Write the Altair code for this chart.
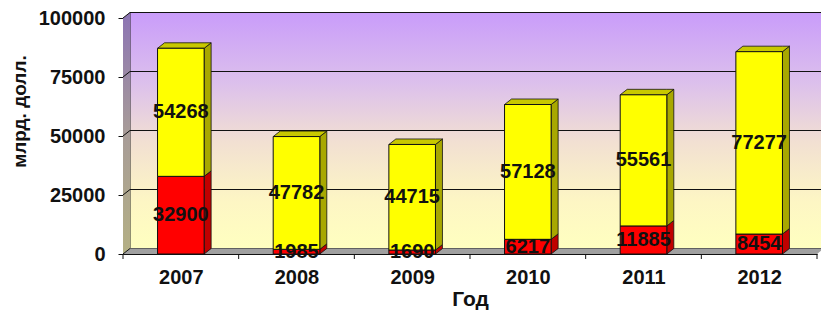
import altair as alt
import pandas as pd

# ---- data ----
years = ["2007", "2008", "2009", "2010", "2011", "2012"]
red_vals = [32900, 1985, 1690, 6217, 11885, 8454]
yellow_vals = [54268, 47782, 44715, 57128, 55561, 77277]
y_ticks = [0, 25000, 50000, 75000, 100000]

# ---- style constants ----
W, H = 694, 236
N = len(years)
PX_X = W / N              # pixels per category unit
PX_Y = H / 100000         # pixels per data unit
HW = 23.3 / PX_X          # half bar width (category units)
DX = 7 / PX_X             # 3D depth in x
DY = 5.5 / PX_Y           # 3D depth in y
FONT = "Liberation Sans"

RED, RED_SIDE = "#FF0000", "#C00000"
YEL, YEL_SIDE, YEL_TOP = "#FFFF00", "#A8A800", "#C8C800"

front, side, top, labels = [], [], [], []
for i, (yr, r, yv) in enumerate(zip(years, red_vals, yellow_vals)):
    segs = [(0, r, RED, RED_SIDE, r), (r, r + yv, YEL, YEL_SIDE, yv)]
    for k, (lo, hi, fc, sc, v) in enumerate(segs):
        key = f"{yr}-{k}"
        front.append(dict(x=i - HW, x2=i + HW, lo=lo, hi=hi, fill=fc))
        side.append(dict(key=key, x=i + HW, lo=lo, hi=hi, fill=sc))
        side.append(dict(key=key, x=i + HW + DX, lo=lo + DY, hi=hi + DY, fill=sc))
        labels.append(dict(x=i, lo=(lo + hi) / 2, text=str(v)))
    t = r + yv
    xl, xr = i - HW, i + HW
    for xx, lo, hi in [(xl, t, t), (xl + DX, t, t + DY), (xr, t, t + DY), (xr + DX, t + DY, t + DY)]:
        top.append(dict(key=yr, x=xx, lo=lo, hi=hi))

front_df = pd.DataFrame(front)
side_df = pd.DataFrame(side)
top_df = pd.DataFrame(top)
label_df = pd.DataFrame(labels)

x0, x1 = -0.5, N - 0.5
back_df = pd.DataFrame([dict(x=x0 + DX, x2=x1 + DX, lo=DY, hi=100000 + DY)])
left_df = pd.DataFrame([dict(x=x0, lo=0, hi=100000), dict(x=x0 + DX, lo=DY, hi=100000 + DY)])
floor_df = pd.DataFrame([dict(x=x0, lo=0, hi=0), dict(x=x0 + DX, lo=0, hi=DY),
                         dict(x=x1, lo=0, hi=DY), dict(x=x1 + DX, lo=DY, hi=DY)])
grid_df = pd.DataFrame([dict(x=x0 + DX, x2=x1 + DX, lo=v + DY, hi=v + DY) for v in y_ticks[1:]] +
                       [dict(x=x0, x2=x0 + DX, lo=v, hi=v + DY) for v in y_ticks])
tick_df = pd.DataFrame(dict(x=[x0 + k for k in range(N + 1)]))

xscale = alt.Scale(domain=[x0, x1], nice=False, zero=False)
yscale = alt.Scale(domain=[0, 100000], nice=False)

label_expr = "[" + ",".join(f"'{y}'" for y in years) + "][datum.value]"

XAXIS = alt.Axis(
    values=list(range(N)), labelExpr=label_expr, grid=False, ticks=False,
    domainColor="#111", labelFont=FONT, labelFontSize=20, labelFontWeight="bold",
    labelColor="#111", labelPadding=13, title="Год", titleFont=FONT,
    titleFontSize=21, titleFontWeight="bold", titleColor="#111", titlePadding=1)
YAXIS = alt.Axis(
    values=y_ticks, format="d", grid=False, tickSize=5, tickColor="#111",
    domainColor="#111", labelFont=FONT, labelFontSize=20, labelFontWeight="bold",
    labelColor="#111", labelPadding=13, title="млрд. долл.", titleFont=FONT,
    titleFontSize=19, titleFontWeight="bold", titleColor="#111",
    titleAngle=270, titleAlign="center", titleBaseline="alphabetic",
    titleX=-98, titleY=93)


def X(f="x"):
    return alt.X(f"{f}:Q", scale=xscale, axis=XAXIS, title="Год")


def Y(f="lo"):
    return alt.Y(f"{f}:Q", scale=yscale, axis=YAXIS, stack=None, title="млрд. долл.")


back = alt.Chart(back_df).mark_rect(
    color=alt.Gradient(gradient="linear", x1=0, x2=0, y1=0, y2=1, stops=[
        alt.GradientStop(color="#C99CFA", offset=0),
        alt.GradientStop(color="#DCC0EC", offset=0.3),
        alt.GradientStop(color="#F2E0D2", offset=0.55),
        alt.GradientStop(color="#FDF6C4", offset=0.8),
        alt.GradientStop(color="#FFFFC0", offset=1)]),
    stroke="#222", strokeWidth=1,
).encode(x=X(), x2="x2:Q", y=Y(), y2="hi:Q")

left = alt.Chart(left_df).mark_area(
    color=alt.Gradient(gradient="linear", x1=0, x2=0, y1=0, y2=1, stops=[
        alt.GradientStop(color="#8C74B4", offset=0),
        alt.GradientStop(color="#A89C98", offset=0.5),
        alt.GradientStop(color="#B4B084", offset=1)]),
).encode(x=X(), y=Y(), y2="hi:Q")

floor = alt.Chart(floor_df).mark_area(color="#A0A0A0").encode(x=X(), y=Y(), y2="hi:Q")

grid = alt.Chart(grid_df).mark_rule(color="#111", strokeWidth=1).encode(
    x=X(), x2="x2:Q", y=Y(), y2="hi:Q")

xticks = alt.Chart(tick_df).mark_rule(color="#111").encode(
    x=X(), y=alt.value(H), y2=alt.value(H + 5))

sides = alt.Chart(side_df).mark_area(stroke="#111", strokeWidth=0.8).encode(
    x=X(), y=Y(), y2="hi:Q", detail="key:N", color=alt.Color("fill:N", scale=None))

tops = alt.Chart(top_df).mark_area(color=YEL_TOP, stroke="#111", strokeWidth=0.8).encode(
    x=X(), y=Y(), y2="hi:Q", detail="key:N")

fronts = alt.Chart(front_df).mark_rect(stroke="#111", strokeWidth=1).encode(
    x=X(), x2="x2:Q", y=Y(), y2="hi:Q", color=alt.Color("fill:N", scale=None))

texts = alt.Chart(label_df).mark_text(
    font=FONT, fontSize=20, fontWeight="bold", color="#111", baseline="middle"
).encode(x=X(), y=Y(), text="text:N")

chart = alt.layer(back, left, floor, grid, xticks, sides, tops, fronts, texts).properties(
    width=W, height=H,
    padding={"left": 115, "top": 10, "right": 4, "bottom": 57},
    autosize=alt.AutoSizeParams(type="none"),
).configure_view(stroke=None).configure(background="white")

chart.save("out.html", embed_options={"renderer": "svg", "actions": False})
